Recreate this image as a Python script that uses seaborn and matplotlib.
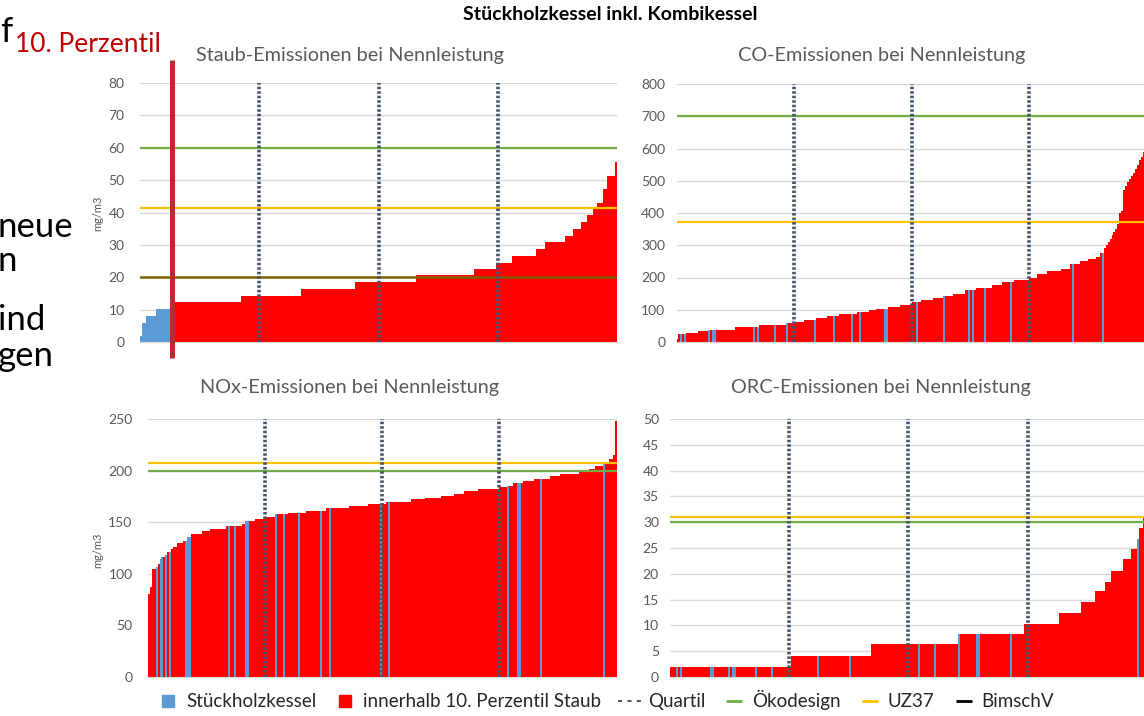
import numpy as np
import pandas as pd
import seaborn as sns
import matplotlib.pyplot as plt
from matplotlib.lines import Line2D

# Werte (sortiert, als Stufen: Wert + Anzahl Anlagen)
staub_werte = [2, 6, 8, 10.3, 12.3, 14.2, 16.4, 18.4, 20.6, 22.5, 24.5, 26.6, 28.8, 31,
               32.7, 34.8, 37, 39.1, 41, 43, 47.3, 51.2, 55.5]
staub_anzahl = [1, 2, 5, 9, 34, 30, 27, 31, 29, 11, 8, 12, 5, 10, 4, 4, 3, 3, 2, 3, 2, 4, 1]
staub_blau = list(range(0, 16))

co_werte = [8, 24, 28, 34, 38, 48, 53, 58, 63, 68, 73, 80, 86, 92, 98, 102, 108, 116, 124, 129,
            136, 142, 148, 160, 167, 178, 186, 192, 200, 210, 220, 226, 242, 252, 258, 265, 275,
            290, 300, 310, 320, 332, 340, 350, 365, 400, 405, 470, 485, 495, 505, 515, 525, 535,
            550, 565, 575, 590, 595]
co_anzahl = [1, 4, 6, 5, 14, 12, 14, 5, 4, 6, 6, 6, 9, 6, 4, 6, 6, 6, 5, 6,
             5, 5, 6, 6, 8, 5, 6, 8, 4, 5, 7, 5, 5, 4, 4, 2, 2,
             1, 1, 1, 1, 1, 1, 1, 1, 1, 1, 1, 1, 1, 1, 1, 1, 1, 1, 1, 1, 1, 1]
co_blau = [2, 4, 16, 18, 19, 39, 41, 50, 56, 70, 80, 89, 93, 106, 107, 122, 136, 149, 151,
           157, 170, 202, 217]

nox_werte = [80, 87, 105, 107, 109.5, 114, 116.6, 118, 121, 124, 126, 129.5, 131.5, 136, 138.6,
             141, 143, 146, 148, 151, 151.5, 153.5, 155, 157.6, 158.6, 161, 163.4, 165.7, 167.6,
             170, 172.5, 173.4, 175.4, 177.6, 180, 182, 183.8, 185, 187.7, 190, 192, 194.4,
             196.7, 199, 202, 204.5, 206, 211, 215, 248]
nox_anzahl = [1, 1, 2, 1, 1, 1, 2, 1, 2, 1, 2, 3, 2, 2, 6, 4, 8, 8, 2, 3, 2, 5, 5, 7, 9, 10, 12,
              10, 9, 13, 7, 8, 7, 5, 7, 11, 4, 3, 5, 6, 8, 5, 10, 5, 3, 4, 3, 2, 1, 1]
nox_blau = [4, 6, 7, 9, 11, 19, 20, 21, 41, 44, 50, 51, 65, 69, 77, 88, 93, 119, 123, 184, 189,
            190, 201, 233]

orc_werte = [2.0, 4.0, 6.3, 8.3, 10.3, 12.4, 14.5, 16.6, 18.5, 20.6, 22.8, 24.8, 26.8, 28.8, 30.9]
orc_anzahl = [61, 40, 44, 33, 18, 11, 7, 5, 3, 6, 4, 3, 1, 2, 2]
orc_blau = [3, 5, 20, 21, 29, 31, 32, 43, 51, 74, 90, 125, 133, 145, 154, 155, 171, 235]

# Grenzwerte
grenzen = {
    "Staub": {"oeko": 60, "uz37": 41.5, "bimsch": 20},
    "CO": {"oeko": 700, "uz37": 372},
    "NOx": {"oeko": 200, "uz37": 207},
    "ORC": {"oeko": 30, "uz37": 31},
}

BLAU = "#5B9BD5"
ROT = "#FF0000"
GRUEN = "#70AD47"
GELB = "#FFC000"
BRAUN = "#7F6000"
QUARTIL = "#44546A"
GRAU = "#595959"

W, H = 1144, 716
sns.set_style("white")
plt.rcParams["font.family"] = ["Lato", "DejaVu Sans"]

fig = plt.figure(figsize=(W / 100, H / 100), dpi=100)


def box(l, t, r, b):
    return [l / W, 1 - b / H, (r - l) / W, (b - t) / H]


panels = [
    ("Staub", staub_werte, staub_anzahl, staub_blau, box(140, 83, 617, 342), 80, 10,
     "Staub-Emissionen bei Nennleistung", 350, 55, 11),
    ("CO", co_werte, co_anzahl, co_blau, box(676.5, 84, 1146.8, 342), 800, 100,
     "CO-Emissionen bei Nennleistung", 882, 55, 8),
    ("NOx", nox_werte, nox_anzahl, nox_blau, box(147.8, 419, 616.5, 677), 250, 50,
     "NOx-Emissionen bei Nennleistung", 350, 388, 11),
    ("ORC", orc_werte, orc_anzahl, orc_blau, box(670, 419, 1146.8, 677), 50, 5,
     "ORC-Emissionen bei Nennleistung", 881, 388, 8),
]

achsen = {}
for name, werte, anzahl, blau, pos, ymax, step, titel, tx, ty, pad in panels:
    ax = fig.add_axes(pos)
    vals = np.repeat(werte, anzahl)
    n = len(vals)
    farbe = np.array(["r"] * n)
    farbe[blau] = "b"
    df = pd.DataFrame({"i": np.arange(n), "v": vals, "c": farbe})
    sns.barplot(data=df, x="i", y="v", hue="c", palette={"b": BLAU, "r": ROT},
                dodge=False, width=1, saturation=1, legend=False, ax=ax, zorder=2)
    for p in ax.patches:
        p.set_linewidth(0)
        p.set_antialiased(False)

    ax.set_xlim(-0.5, n - 0.5)
    ax.set_ylim(0, ymax)
    ax.set_yticks(np.arange(0, ymax + step / 2, step))
    ax.set_xticks(np.arange(5.5, n, 6))
    ax.set_xticklabels([])
    ax.set_xlabel("")
    ax.set_ylabel("")
    ax.tick_params(axis="y", length=0, pad=pad, labelsize=10, labelcolor=GRAU)
    ax.tick_params(axis="x", length=3, color="#D9D9D9", width=0.8)
    ax.grid(axis="y", color="#D9D9D9", lw=1)
    ax.set_axisbelow(True)
    for s in ["top", "right", "left"]:
        ax.spines[s].set_visible(False)
    ax.spines["bottom"].set_color("#D9D9D9")

    g = grenzen[name]
    ax.axhline(g["oeko"], color=GRUEN, lw=1.6, zorder=4)
    ax.axhline(g["uz37"], color=GELB, lw=1.6, zorder=4)
    if "bimsch" in g:
        ax.axhline(g["bimsch"], color=BRAUN, lw=1.8, zorder=4)

    for q in [0.25, 0.5, 0.75]:
        ax.axvline(-0.5 + q * n, color=QUARTIL, lw=2.6, ls=(0, (0.7, 0.55)), zorder=5)

    fig.text(tx / W, 1 - ty / H, titel, ha="center", va="center", fontsize=14.3, color=GRAU)
    achsen[name] = ax

# 10. Perzentil Linie im Staub-Diagramm
ax = achsen["Staub"]
ax.plot([15.6, 15.6], [-4.9, 87], color="#C0282D", lw=3.6, clip_on=False, zorder=6,
        solid_capstyle="butt")
fig.text(88 / W, 1 - 44 / H, "10. Perzentil", ha="center", va="center", fontsize=19,
         color="#C00000")

# y-Achsenbeschriftung
fig.text(98 / W, 1 - 213 / H, "mg/m3", rotation=90, ha="center", va="center", fontsize=8,
         color=GRAU)
fig.text(98 / W, 1 - 550 / H, "mg/m3", rotation=90, ha="center", va="center", fontsize=8,
         color=GRAU)

# Haupttitel
fig.text(610 / W, 1 - 14 / H, "Stückholzkessel inkl. Kombikessel", ha="center", va="center",
         fontsize=14, fontweight="bold", color="black")

# Textreste der Folie am linken Rand
for txt, x, y in [("f", 0, 42), ("neue", -2, 237), ("n", -2, 271), ("ind", -2, 330),
                  ("gen", -2, 366)]:
    fig.text(x / W, 1 - y / H, txt, ha="left", va="baseline", fontsize=25, color="black")

# Legende (kleine Quadrate / kurze Striche wie in Excel)
handles = [
    Line2D([], [], ls="none", marker="s", markersize=8.5, color=BLAU, label="Stückholzkessel"),
    Line2D([], [], ls="none", marker="s", markersize=8.5, color=ROT,
           label="innerhalb 10. Perzentil Staub"),
    Line2D([], [], color=GRAU, lw=1.5, ls=(0, (2, 2.5)), label="Quartil"),
    Line2D([], [], ls="none", marker="_", markersize=12, markeredgewidth=2, color=GRUEN,
           label="Ökodesign"),
    Line2D([], [], ls="none", marker="_", markersize=12, markeredgewidth=2, color=GELB,
           label="UZ37"),
    Line2D([], [], ls="none", marker="_", markersize=12, markeredgewidth=2, color="black",
           label="BimschV"),
]
fig.legend(handles=handles, loc="center", bbox_to_anchor=(605 / W, 1 - 700 / H), ncol=6,
           frameon=False, fontsize=13.5, handlelength=1.3, handletextpad=0.3,
           columnspacing=0.9)

fig.savefig("out.png", dpi=100)
